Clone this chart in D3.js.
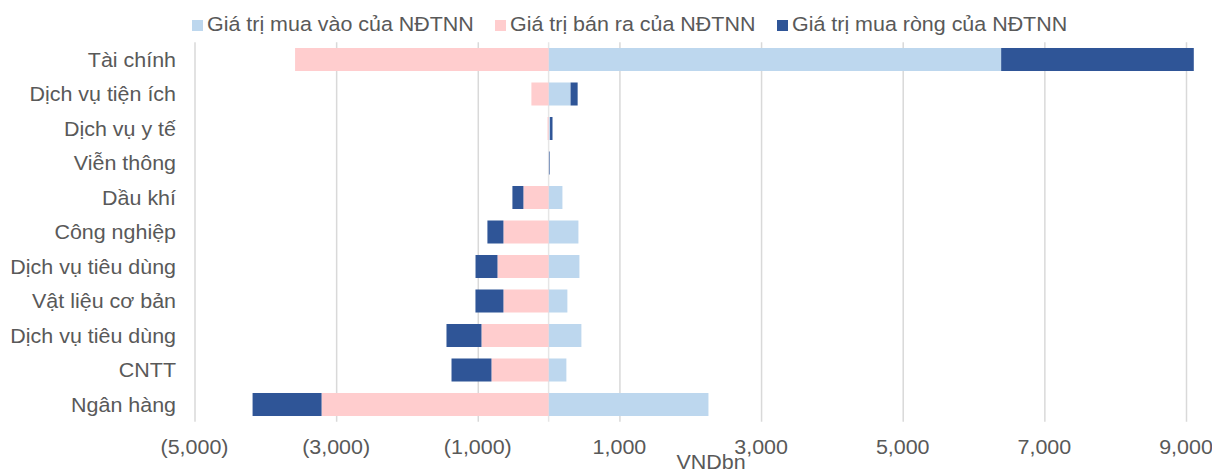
<!DOCTYPE html>
<html>
<head>
<meta charset="utf-8">
<script src="https://cdn.jsdelivr.net/npm/d3@7"></script>
<style>
  html, body { margin: 0; padding: 0; background: #fff; }
  svg { display: block; }
  text { font-family: "Liberation Sans", Arial, sans-serif; fill: #595959; }
</style>
</head>
<body>
<svg id="chart" width="1212" height="473"></svg>
<script>
const categories = ["Tài chính", "Dịch vụ tiện ích", "Dịch vụ y tế", "Viễn thông", "Dầu khí", "Công nghiệp", "Dịch vụ tiêu dùng", "Vật liệu cơ bản", "Dịch vụ tiêu dùng", "CNTT", "Ngân hàng"];
const buyValues  = [6390, 310, 20, 6, 195, 421, 435, 265, 463, 251, 2257];
const sellValues = [-3580, -243, -15, -2, -356, -638, -722, -638, -948, -807, -3206];
const netValues  = [2720, 100, 35, 8, -155, -226, -310, -395, -494, -564, -974];
const seriesNames = ["Giá trị mua vào của NĐTNN", "Giá trị bán ra của NĐTNN", "Giá trị mua ròng của NĐTNN"];
const seriesColors = ["#BDD7EE", "#FFCDCE", "#2F5597"];
const tickValues = [-5000, -3000, -1000, 1000, 3000, 5000, 7000, 9000];
const axisTitle = "VNDbn";

const svg = d3.select("#chart");
const FS = 19.5, SX = 1.1;

const x = d3.scaleLinear().domain([-5000, 9000]).range([194.5, 1186]);
const y = d3.scaleBand().domain(d3.range(categories.length)).range([42.25, 421.75]).paddingInner(0.333).paddingOuter(0.1665);

function stxt(sel, px, py, anchor) {
  sel.attr("text-anchor", anchor).attr("font-size", FS)
     .attr("transform", (d, i) => `translate(${typeof px === "function" ? px(d, i) : px},${typeof py === "function" ? py(d, i) : py}) scale(${SX},1)`);
  return sel;
}

// gridlines via axis
const xAxis = d3.axisBottom(x).tickValues(tickValues).tickSize(-(421.75 - 42.25)).tickFormat("");
const g = svg.append("g").attr("transform", "translate(0,421.75)").call(xAxis);
g.select(".domain").remove();
g.selectAll(".tick line").attr("stroke", "#D9D9D9").attr("stroke-width", 1.5);

// zero line
svg.append("line").attr("x1", x(0)).attr("x2", x(0)).attr("y1", 42.25).attr("y2", 421.75)
   .attr("stroke", "#E6E6E6").attr("stroke-width", 1.5);

// bars
const rows = categories.map((c, i) => ({ i, buy: buyValues[i], sell: sellValues[i], net: netValues[i] }));
const bh = y.bandwidth();
const segs = [];
rows.forEach(r => {
  segs.push({ i: r.i, x0: 0, x1: r.buy, s: 0 });
  segs.push({ i: r.i, x0: 0, x1: r.sell, s: 1 });
  if (r.net >= 0) segs.push({ i: r.i, x0: r.buy, x1: r.buy + r.net, s: 2 });
  else segs.push({ i: r.i, x0: r.sell, x1: r.sell + r.net, s: 2 });
});
svg.append("g").selectAll("rect").data(segs).join("rect")
  .attr("x", d => Math.min(x(d.x0), x(d.x1)))
  .attr("width", d => Math.abs(x(d.x1) - x(d.x0)))
  .attr("y", d => y(d.i))
  .attr("height", bh)
  .attr("fill", d => seriesColors[d.s]);

// category labels
svg.append("g").selectAll("text").data(categories).join("text")
  .call(s => stxt(s, 176, (d, i) => y(i) + bh / 2 + 7, "end"))
  .text(d => d);

// tick labels
const fmt = d3.format(",");
svg.append("g").selectAll("text").data(tickValues).join("text")
  .call(s => stxt(s, d => x(d), 453.5, "middle"))
  .text(d => d < 0 ? `(${fmt(-d)})` : fmt(d));

// axis title
svg.append("text").datum(axisTitle)
  .call(s => stxt(s, 711, 468.5, "middle"))
  .text(d => d);

// legend
const legX = [192, 495, 777];
const leg = svg.append("g").selectAll("g").data(seriesNames).join("g");
leg.append("rect").attr("x", (d, i) => legX[i]).attr("y", 20).attr("width", 11).attr("height", 11)
   .attr("fill", (d, i) => seriesColors[i]);
leg.append("text")
   .call(s => stxt(s, (d, i) => legX[i] + 15, 31, "start"))
   .text(d => d);
</script>
</body>
</html>
